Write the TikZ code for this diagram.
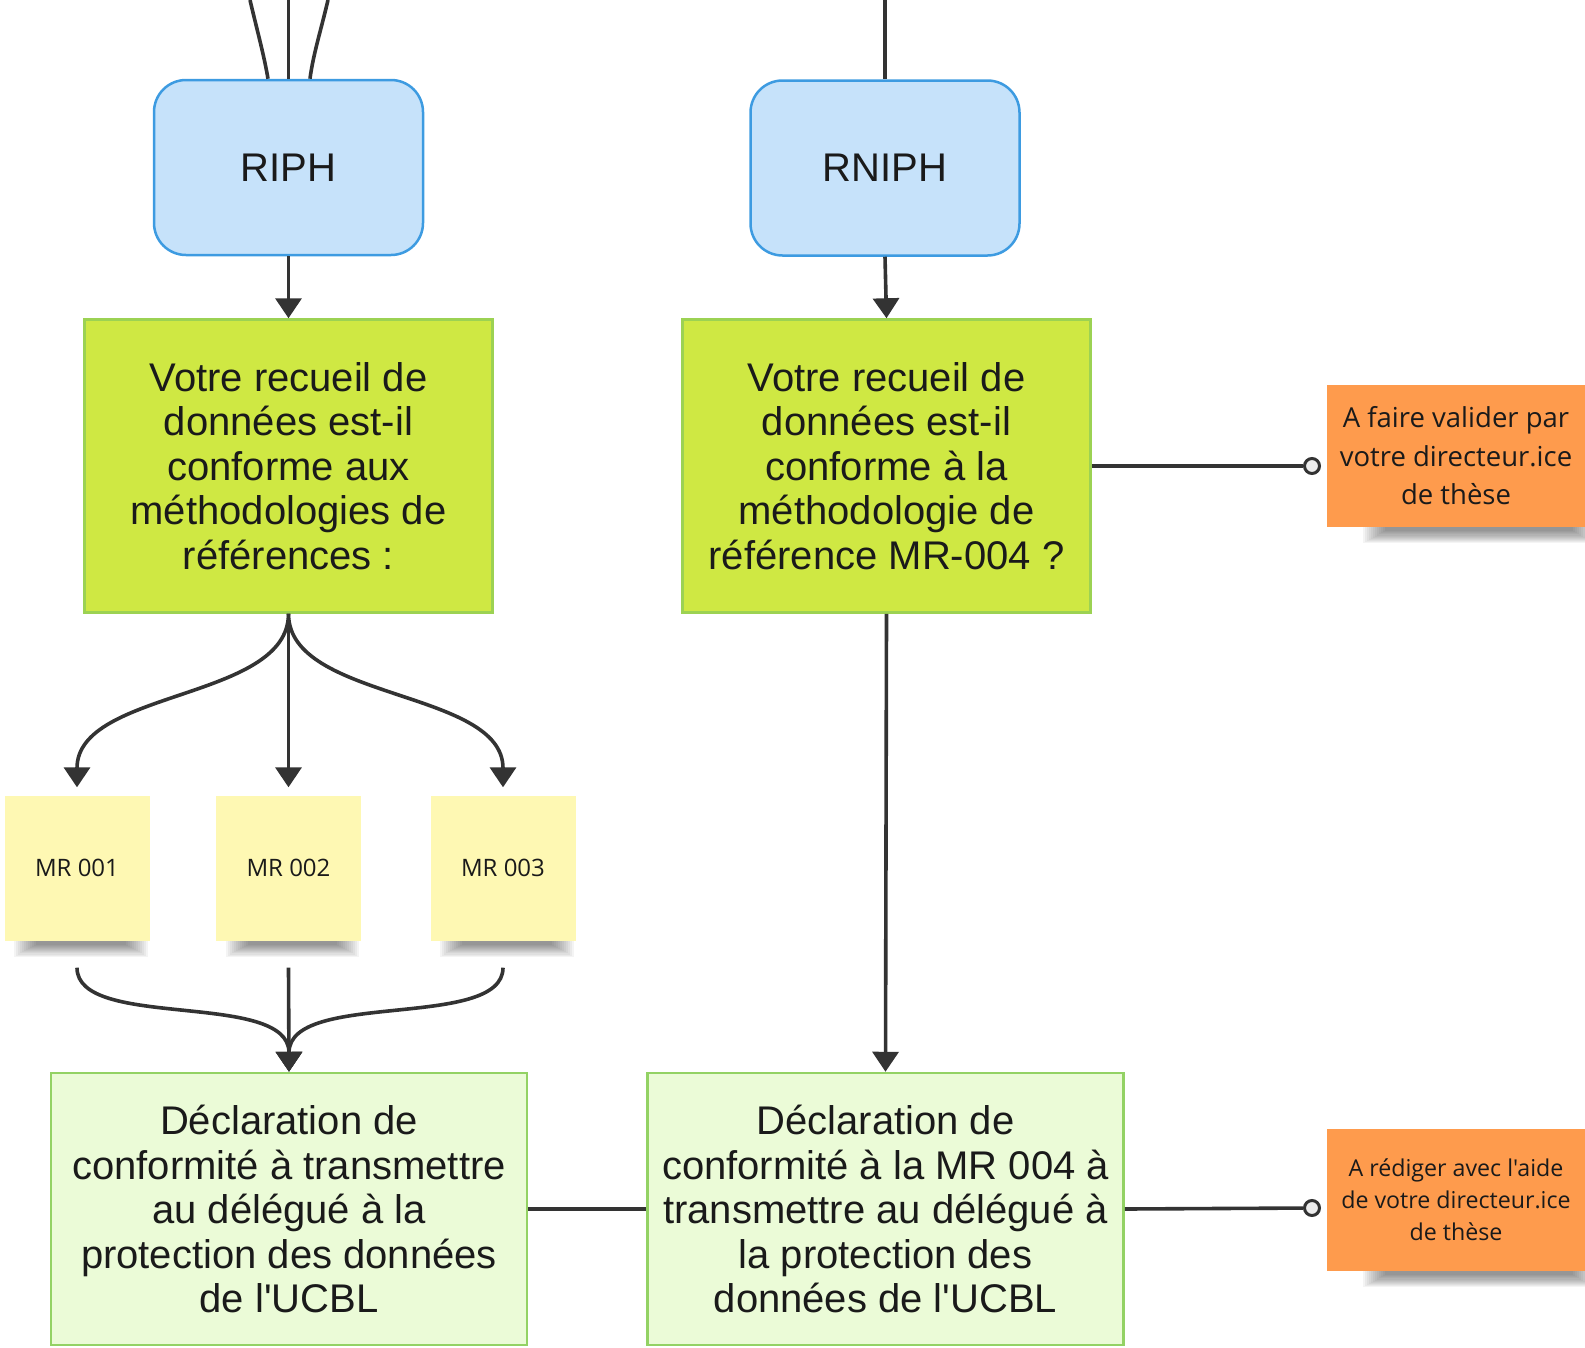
\documentclass[tikz,border=0pt]{standalone}
\usepackage{fontspec}
\setmainfont{Liberation Sans}[Ligatures=TeXOff]
\newfontfamily\osans{Open Sans}
\usetikzlibrary{arrows.meta,backgrounds}
\definecolor{blueF}{HTML}{C6E2FA}
\definecolor{blueB}{HTML}{3D9BE1}
\definecolor{limeF}{HTML}{CFE843}
\definecolor{limeB}{HTML}{9CD253}
\definecolor{paleF}{HTML}{EBFBD7}
\definecolor{paleB}{HTML}{93D264}
\definecolor{yel}{HTML}{FEF8B3}
\definecolor{orng}{HTML}{FE9B4D}
\definecolor{lnc}{HTML}{333333}
\definecolor{txt}{HTML}{1A1A1A}
\newcommand\noteshadow[3]{%
  \foreach \k in {0,...,11}{%
    \fill[black,opacity=0.045] ([xshift={#2+2*\k},yshift=3pt]#1.south west) rectangle ([xshift={-#3-2*\k},yshift={-16+1.1*\k}]#1.south east);
  }%
}
\begin{document}
\begin{tikzpicture}[x=1pt,y=-1pt,
  conn/.style={draw=lnc, line width=3.6pt},
  arr/.style={conn, -{Triangle[width=26pt,length=20pt]}},
  bluebox/.style={draw=blueB, fill=blueF, line width=2.5pt, rounded corners=32pt,
    minimum width=269pt, minimum height=175pt, inner sep=0pt, text=txt,
    font=\fontsize{40}{46}\selectfont},
  limebox/.style={draw=limeB, fill=limeF, line width=2.5pt, minimum width=408pt,
    minimum height=293pt, inner sep=0pt, align=center, text=txt,
    font=\fontsize{40}{44.5}\selectfont},
  palebox/.style={draw=paleB, fill=paleF, line width=2.5pt, minimum width=476pt,
    minimum height=272pt, inner sep=0pt, align=center, text=txt,
    font=\fontsize{40}{44.5}\selectfont},
  sticky/.style={fill=yel, minimum width=145pt, minimum height=145pt, inner sep=0pt,
    text=txt, font=\osans\fontsize{24}{28}\selectfont},
  onote/.style={fill=orng, minimum width=258pt, minimum height=142pt, inner sep=0pt,
    align=center, text=txt},
  dotc/.style={circle, draw=lnc, fill=white!93!black, line width=3pt,
    minimum size=15pt, inner sep=0pt}
]
\useasboundingbox (0,0) rectangle (1585,1347);

% boxes
\node[bluebox] (riph) at (288.5,167.5) {RIPH};
\node[bluebox] (rniph) at (885,168) {RNIPH};

\node[limebox] (g1) at (288.5,466) {Votre recueil de\\données est-il\\conforme aux\\méthodologies de\\références :};
\node[limebox] (g2) at (886.5,466) {Votre recueil de\\données est-il\\conforme à la\\méthodologie de\\référence MR-004 ?};

\node[sticky] (mr1) at (77,868) {MR 001};
\node[sticky] (mr2) at (288.5,868) {MR 002};
\node[sticky] (mr3) at (503,868) {MR 003};

\node[palebox] (g3) at (289,1209) {Déclaration de\\conformité à transmettre\\au délégué à la\\protection des données\\de l'UCBL};
\node[palebox] (g4) at (885.5,1209) {Déclaration de\\conformité à la MR 004 à\\transmettre au délégué à\\la protection des\\données de l'UCBL};

\node[onote, font=\osans\fontsize{27.5}{38.4}\selectfont] (n1) at (1456,456) {A faire valider par\\votre directeur.ice\\de thèse};
\node[onote, font=\osans\fontsize{23.2}{32}\selectfont] (n2) at (1456,1200) {A rédiger avec l'aide\\de votre directeur.ice\\de thèse};

\node[dotc] (c1) at (1312,466) {};
\node[dotc] (c2) at (1312,1208) {};

% shadows
\begin{scope}[on background layer]
  \noteshadow{mr1}{10}{2}
  \noteshadow{mr2}{10}{2}
  \noteshadow{mr3}{10}{2}
  \noteshadow{n1}{36}{-10}
  \noteshadow{n2}{36}{-10}
\end{scope}

% top lines
\coordinate (tl) at (250,0);
\coordinate (tc) at (288.5,0);
\coordinate (tr) at (328,0);
\coordinate (tn) at (885,0);
\draw[conn] (tl) .. controls (257,30) and (264,55) .. ([xshift=-20.5pt]riph.north);
\draw[conn] (tc) -- (riph.north);
\draw[conn] (tr) .. controls (321,30) and (313,55) .. ([xshift=21.5pt]riph.north);
\draw[conn] (tn) -- (rniph.north);

% arrows
\draw[arr] (riph.south) -- (g1.north);
\draw[arr] (rniph.south) -- (g2.north);

\draw[arr] (g1.south) .. controls +(0,87) and +(0,-98) .. ([yshift=8pt]mr1.north);
\draw[arr] (g1.south) -- ([yshift=8pt]mr2.north);
\draw[arr] (g1.south) .. controls +(0,87) and +(0,-98) .. ([yshift=8pt]mr3.north);

\draw[arr] ([yshift=-27pt]mr1.south) .. controls +(0,63) and +(0,-82) .. (g3.north);
\draw[arr] ([yshift=-27pt]mr2.south) -- (g3.north);
\draw[arr] ([yshift=-27pt]mr3.south) .. controls +(0,63) and +(0,-82) .. (g3.north);

\draw[arr] (g2.south) -- (g4.north);

\draw[conn] (g3.east) -- (g4.west);
\draw[conn] (g2.east) -- (c1);
\draw[conn] (g4.east) -- (c2);
\end{tikzpicture}
\end{document}
